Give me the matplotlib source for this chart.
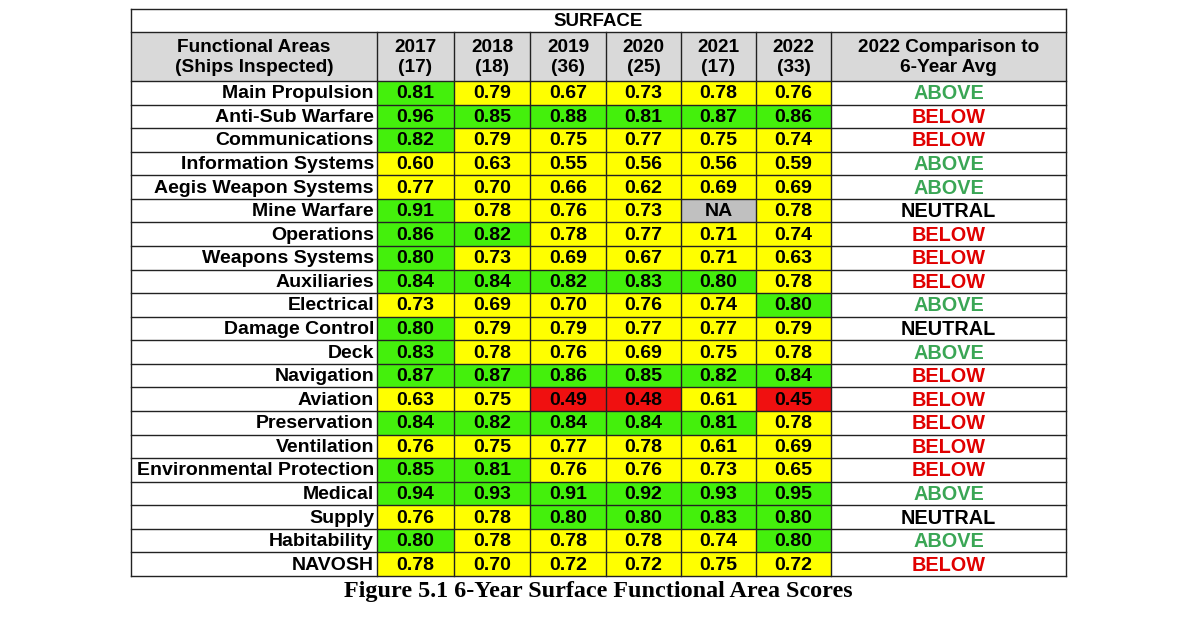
import matplotlib
matplotlib.use("Agg")
import matplotlib.pyplot as plt
from matplotlib.patches import Rectangle

# table data
areas = ["Main Propulsion", "Anti-Sub Warfare", "Communications", "Information Systems",
         "Aegis Weapon Systems", "Mine Warfare", "Operations", "Weapons Systems",
         "Auxiliaries", "Electrical", "Damage Control", "Deck", "Navigation", "Aviation",
         "Preservation", "Ventilation", "Environmental Protection", "Medical", "Supply",
         "Habitability", "NAVOSH"]
years = ["2017", "2018", "2019", "2020", "2021", "2022"]
ships = [17, 18, 36, 25, 17, 33]
s2017 = [0.81, 0.96, 0.82, 0.60, 0.77, 0.91, 0.86, 0.80, 0.84, 0.73, 0.80, 0.83, 0.87, 0.63, 0.84, 0.76, 0.85, 0.94, 0.76, 0.80, 0.78]
s2018 = [0.79, 0.85, 0.79, 0.63, 0.70, 0.78, 0.82, 0.73, 0.84, 0.69, 0.79, 0.78, 0.87, 0.75, 0.82, 0.75, 0.81, 0.93, 0.78, 0.78, 0.70]
s2019 = [0.67, 0.88, 0.75, 0.55, 0.66, 0.76, 0.78, 0.69, 0.82, 0.70, 0.79, 0.76, 0.86, 0.49, 0.84, 0.77, 0.76, 0.91, 0.80, 0.78, 0.72]
s2020 = [0.73, 0.81, 0.77, 0.56, 0.62, 0.73, 0.77, 0.67, 0.83, 0.76, 0.77, 0.69, 0.85, 0.48, 0.84, 0.78, 0.76, 0.92, 0.80, 0.78, 0.72]
s2021 = [0.78, 0.87, 0.75, 0.56, 0.69, None, 0.71, 0.71, 0.80, 0.74, 0.77, 0.75, 0.82, 0.61, 0.81, 0.61, 0.73, 0.93, 0.83, 0.74, 0.75]
s2022 = [0.76, 0.86, 0.74, 0.59, 0.69, 0.78, 0.74, 0.63, 0.78, 0.80, 0.79, 0.78, 0.84, 0.45, 0.78, 0.69, 0.65, 0.95, 0.80, 0.80, 0.72]
comparison = ["ABOVE", "BELOW", "BELOW", "ABOVE", "ABOVE", "NEUTRAL", "BELOW", "BELOW",
              "BELOW", "ABOVE", "NEUTRAL", "ABOVE", "BELOW", "BELOW", "BELOW", "BELOW",
              "BELOW", "ABOVE", "NEUTRAL", "ABOVE", "BELOW"]
scores = [s2017, s2018, s2019, s2020, s2021, s2022]

sans = "Liberation Sans"

fig = plt.figure(figsize=(12, 6.29), dpi=100)
ax = fig.add_axes([0, 0, 1, 1])
ax.set_xlim(0, 1200)
ax.set_ylim(629, 0)
ax.axis("off")

col_x = [131, 377, 454, 530, 606, 681, 756, 831, 1066]
top, h1, h2, bottom = 9, 32, 81, 576
row_h = (bottom - h2) / len(areas)
line = dict(color="#222222", lw=1.0)


def cell_color(v):
    if v is None:
        return "#c0c0c0"
    if v >= 0.80:
        return "#44f00c"
    if v < 0.50:
        return "#f01010"
    return "#ffff00"


comp_colors = {"ABOVE": "#3aa655", "BELOW": "#e00000", "NEUTRAL": "#000000"}

# header
ax.add_patch(Rectangle((col_x[0], h1), col_x[-1] - col_x[0], h2 - h1, fc="#d9d9d9", ec="none"))
ax.text(598, (top + h1) / 2 + 1, "SURFACE", ha="center", va="center", fontsize=13.5,
        fontweight="bold", family=sans)
ax.text((col_x[0] + col_x[1]) / 2, (h1 + h2) / 2 + 1, "Functional Areas\n(Ships Inspected)",
        ha="center", va="center", fontsize=13.7, fontweight="bold", family=sans, linespacing=1.3)
for j, (yr, n) in enumerate(zip(years, ships)):
    ax.text((col_x[j + 1] + col_x[j + 2]) / 2, (h1 + h2) / 2 + 1, f"{yr}\n({n})",
            ha="center", va="center", fontsize=13.7, fontweight="bold", family=sans, linespacing=1.3)
ax.text((col_x[7] + col_x[8]) / 2, (h1 + h2) / 2 + 1, "2022 Comparison to\n6-Year Avg",
        ha="center", va="center", fontsize=13.7, fontweight="bold", family=sans,
        linespacing=1.3)

# body
for i, area in enumerate(areas):
    y0 = h2 + i * row_h
    yc = y0 + row_h / 2 + 1
    ax.text(col_x[1] - 3, yc, area, ha="right", va="center", fontsize=14,
            fontweight="bold", family=sans)
    for j in range(len(years)):
        v = scores[j][i]
        ax.add_patch(Rectangle((col_x[j + 1], y0), col_x[j + 2] - col_x[j + 1], row_h,
                               fc=cell_color(v), ec="none"))
        ax.text((col_x[j + 1] + col_x[j + 2]) / 2, yc, "NA" if v is None else f"{v:.2f}",
                ha="center", va="center", fontsize=14, fontweight="bold", family=sans)
    ax.text((col_x[7] + col_x[8]) / 2, yc, comparison[i], ha="center", va="center",
            fontsize=14.3, fontweight="bold", family=sans, color=comp_colors[comparison[i]])

# grid lines
for y in [top, h1, h2] + [h2 + k * row_h for k in range(1, len(areas))] + [bottom]:
    ax.plot([col_x[0], col_x[-1]], [y, y], **line)
for k, x in enumerate(col_x):
    ax.plot([x, x], [top if k in (0, len(col_x) - 1) else h1, bottom], **line)

ax.text(598, 592, "Figure 5.1 6-Year Surface Functional Area Scores", ha="center", va="center",
        fontsize=17.4, fontweight="bold", family="Liberation Serif")

fig.savefig("out.png", dpi=100)
